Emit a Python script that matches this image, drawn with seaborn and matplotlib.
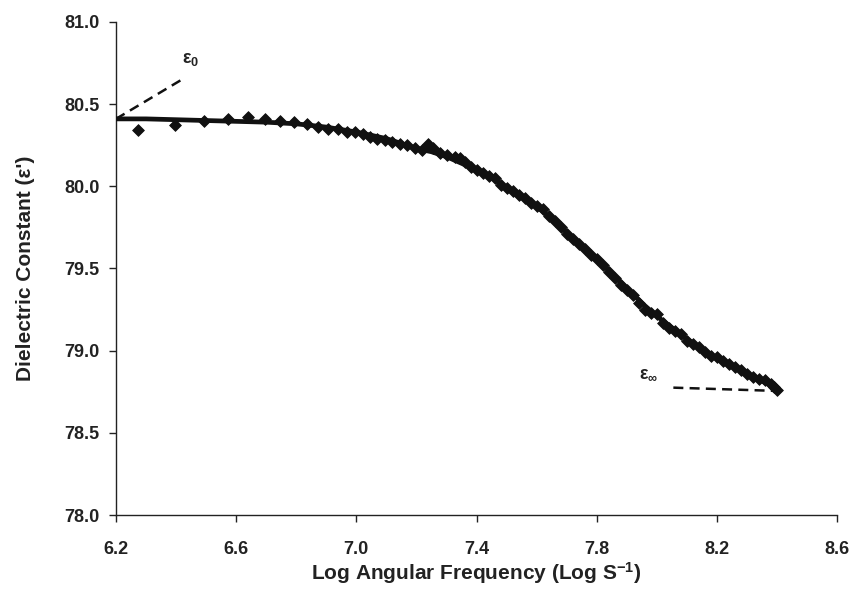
import numpy as np
import pandas as pd
import matplotlib
matplotlib.use("Agg")
import matplotlib.pyplot as plt
import seaborn as sns

# measured points (diamonds)
log_freq = [6.272, 6.396, 6.493, 6.572, 6.638, 6.696, 6.747, 6.793, 6.835, 6.873,
            6.907, 6.938, 6.968, 6.996, 7.023, 7.045, 7.070, 7.095, 7.120, 7.145,
            7.168, 7.195, 7.218, 7.240, 7.256, 7.279, 7.301, 7.328, 7.345,
            7.36, 7.38, 7.40, 7.42, 7.44, 7.46, 7.48, 7.50, 7.52, 7.54, 7.56,
            7.58, 7.60, 7.62, 7.64, 7.66, 7.68, 7.70, 7.72, 7.74, 7.76, 7.78,
            7.80, 7.82, 7.84, 7.86, 7.88, 7.90, 7.92, 7.94, 7.96, 7.98, 8.00,
            8.02, 8.04, 8.06, 8.08, 8.10, 8.12, 8.14, 8.16, 8.18, 8.20, 8.22,
            8.24, 8.26, 8.28, 8.30, 8.32, 8.34, 8.36, 8.38, 8.39, 8.40]
eps_meas = [80.34, 80.37, 80.40, 80.41, 80.42, 80.41, 80.40, 80.39, 80.38, 80.36,
            80.35, 80.35, 80.33, 80.33, 80.32, 80.30, 80.29, 80.28, 80.27, 80.26,
            80.25, 80.23, 80.22, 80.26, 80.23, 80.20, 80.19, 80.18, 80.17,
            80.15, 80.12, 80.10, 80.08, 80.06, 80.05, 80.01, 79.99, 79.97, 79.95, 79.93,
            79.90, 79.88, 79.86, 79.82, 79.79, 79.75, 79.71, 79.68, 79.65, 79.62, 79.58,
            79.56, 79.52, 79.48, 79.44, 79.40, 79.37, 79.34, 79.29, 79.25, 79.23, 79.22,
            79.17, 79.14, 79.12, 79.10, 79.06, 79.04, 79.02, 78.99, 78.97, 78.96, 78.94,
            78.92, 78.90, 78.88, 78.86, 78.84, 78.83, 78.82, 78.80, 78.78, 78.76]

# fitted curve
fit_x = [6.2, 6.3, 6.4, 6.5, 6.6, 6.7, 6.8, 6.9, 7.0, 7.05, 7.1, 7.15, 7.2, 7.25,
         7.3, 7.35, 7.4, 7.45, 7.5, 7.55, 7.6, 7.65, 7.7, 7.75, 7.8, 7.85, 7.9,
         7.95, 8.0, 8.05, 8.1, 8.15, 8.2, 8.25, 8.3, 8.35, 8.4]
fit_y = [80.41, 80.41, 80.405, 80.40, 80.395, 80.39, 80.38, 80.36, 80.33, 80.31,
         80.29, 80.26, 80.23, 80.21, 80.18, 80.14, 80.10, 80.055, 79.99, 79.935,
         79.88, 79.80, 79.72, 79.64, 79.56, 79.47, 79.38, 79.29, 79.21, 79.14,
         79.07, 79.01, 78.95, 78.905, 78.86, 78.815, 78.77]

# tangent guide lines
eps0_x = [6.2, 6.42]
eps0_y = [80.41, 80.65]
epsinf_x = [8.055, 8.40]
epsinf_y = [78.775, 78.755]

x_ticks = [6.2, 6.6, 7.0, 7.4, 7.8, 8.2, 8.6]
y_ticks = [78.0, 78.5, 79.0, 79.5, 80.0, 80.5, 81.0]

sns.set_style("ticks")
plt.rcParams["font.family"] = ["Liberation Sans", "DejaVu Sans"]
plt.rcParams["font.weight"] = "bold"
plt.rcParams["mathtext.fontset"] = "custom"
plt.rcParams["mathtext.rm"] = "Liberation Sans:bold"
plt.rcParams["mathtext.it"] = "Liberation Sans:bold"
plt.rcParams["mathtext.bf"] = "Liberation Sans:bold"

fig = plt.figure(figsize=(8.49, 5.92), dpi=100)
ax = fig.add_axes([0.1366, 0.130, 0.8494, 0.833])

meas = pd.DataFrame({"x": log_freq, "y": eps_meas})
fit = pd.DataFrame({"x": fit_x, "y": fit_y})

sns.scatterplot(data=meas, x="x", y="y", marker="D", s=36, color="#111111",
                edgecolor="#111111", linewidth=0.6, ax=ax, zorder=3)
sns.lineplot(data=fit, x="x", y="y", color="#111111", linewidth=3.4, ax=ax,
             zorder=4, sort=False)
ax.plot(eps0_x, eps0_y, color="#111111", linewidth=1.8, dashes=(4, 2.5))
ax.plot(epsinf_x, epsinf_y, color="#111111", linewidth=1.8, dashes=(4, 2.5))

ax.text(6.42, 80.72, r"$\mathregular{\varepsilon_0}$", fontsize=13, fontweight="bold",
        ha="left", va="bottom", color="#222222")
ax.text(7.94, 78.81, r"$\mathregular{\varepsilon_\infty}$", fontsize=13, fontweight="bold",
        ha="left", va="bottom", color="#222222")

ax.set_xlim(6.2, 8.6)
ax.set_ylim(78.0, 81.0)
ax.set_xticks(x_ticks)
ax.set_yticks(y_ticks)
ax.set_xticklabels([f"{v:.1f}" for v in x_ticks])
ax.set_yticklabels([f"{v:.1f}" for v in y_ticks])
ax.tick_params(axis="both", labelsize=13, direction="out", length=5, width=1,
               color="#222222", labelcolor="#222222")
ax.tick_params(axis="x", pad=14)
ax.tick_params(axis="y", pad=7)
for lab in ax.get_xticklabels() + ax.get_yticklabels():
    lab.set_fontweight("bold")

ax.set_xlabel(r"Log Angular Frequency (Log S$^{\mathregular{-1}}$)", fontsize=15,
              fontweight="bold", color="#222222")
ax.set_ylabel("Dielectric Constant (ε')", fontsize=15, fontweight="bold",
              color="#222222")
ax.xaxis.set_label_coords(0.5, -0.092)
ax.yaxis.set_label_coords(-0.112, 0.5)

sns.despine(ax=ax)
ax.spines["left"].set_linewidth(1)
ax.spines["bottom"].set_linewidth(1)
ax.spines["left"].set_color("#222222")
ax.spines["bottom"].set_color("#222222")

fig.savefig("out.png", dpi=100)
